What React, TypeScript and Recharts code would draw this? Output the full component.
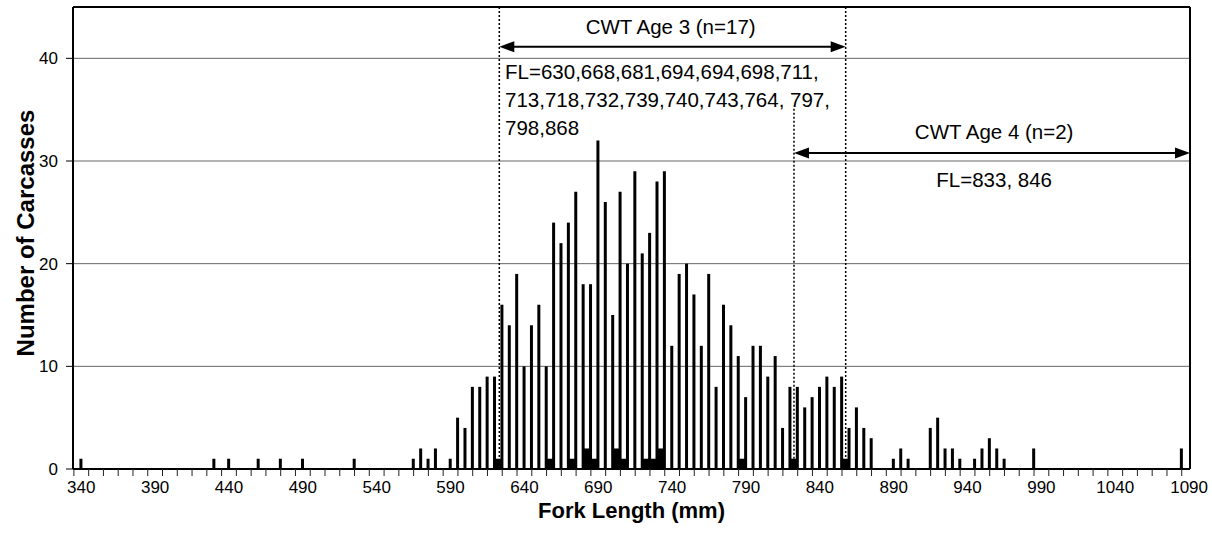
import { BarChart, Bar, XAxis, YAxis, CartesianGrid, ReferenceLine, ReferenceDot } from 'recharts'

// all carcasses, 5 mm fork length bins (bins with no fish left out)
const FORK_LENGTHS = [
  340, 430, 440, 460, 475, 490, 525, 565, 570, 575, 580, 590, 595, 600, 605, 610, 615, 620,
  625, 630, 635, 640, 645, 650, 655, 660, 665, 670, 675, 680, 685, 690, 695, 700, 705, 710,
  715, 720, 725, 730, 735, 740, 745, 750, 755, 760, 765, 770, 775, 780, 785, 790, 795, 800,
  805, 810, 815, 820, 825, 830, 835, 840, 845, 850, 855, 860, 865, 870, 875, 890, 895, 900,
  915, 920, 925, 930, 935, 945, 950, 955, 960, 965, 985, 1085,
]
const CARCASS_COUNTS = [
  1, 1, 1, 1, 1, 1, 1, 1, 2, 1, 2, 1, 5, 4, 8, 8, 9, 9,
  16, 14, 19, 10, 14, 16, 10, 24, 22, 24, 27, 18, 18, 32, 26, 15, 27, 20,
  29, 21, 23, 28, 29, 12, 19, 20, 17, 12, 19, 8, 16, 14, 11, 7, 12, 12,
  9, 11, 4, 8, 8, 6, 7, 8, 9, 8, 9, 4, 6, 4, 3, 1, 2, 1,
  4, 5, 2, 2, 1, 1, 2, 3, 2, 1, 2, 2,
]

// coded-wire-tag recoveries, as drawn on the axis
const CWT_LENGTHS = [622.5, 657.5, 672.5, 682.5, 687.5, 702.5, 707.5, 722.5, 727.5, 732.5, 787.5, 822.5, 857.5]
const CWT_COUNTS = [1, 1, 1, 2, 1, 2, 1, 1, 1, 2, 1, 1, 1]

const X_LABELS = [340, 390, 440, 490, 540, 590, 640, 690, 740, 790, 840, 890, 940, 990, 1040, 1090]
const Y_TICKS = [0, 10, 20, 30, 40]

const AGE3_TEXT = ['FL=630,668,681,694,694,698,711,', '713,718,732,739,740,743,764, 797,', '798,868']

const X_MIN = 334.4
const X_MAX = 1090.6
const TICK_MARKS = Array.from({ length: 76 }, (_, i) => 335 + i * 10)
const ALL_TICKS = [...TICK_MARKS, ...X_LABELS].sort((a, b) => a - b)

const FONT = 'Liberation Sans, Arial, sans-serif'

const rows = [
  ...FORK_LENGTHS.map((len, i) => ({ len, count: CARCASS_COUNTS[i] })),
  ...CWT_LENGTHS.map((len, i) => ({ len, cwt: CWT_COUNTS[i] })),
].sort((a, b) => a.len - b.len)

function ForkTick({ x, y, payload }: any) {
  const v = payload.value
  return (
    <g>
      {TICK_MARKS.includes(v) && <line x1={x} x2={x} y1={y - 7} y2={y} stroke="#222" strokeWidth={1} />}
      {X_LABELS.includes(v) && (
        <text x={x} y={y + 17} textAnchor="middle" fontSize={17} fill="#000">
          {v}
        </text>
      )}
    </g>
  )
}

function XTitle({ viewBox }: any) {
  return (
    <text x={viewBox.x + viewBox.width / 2} y={viewBox.y + 49} textAnchor="middle" fontSize={22} fontWeight="bold" fill="#000">
      Fork Length (mm)
    </text>
  )
}

function YTitle({ viewBox }: any) {
  const cx = viewBox.x + 21
  const cy = viewBox.y + viewBox.height / 2 - 5
  return (
    <text x={cx} y={cy} transform={`rotate(-90, ${cx}, ${cy})`} textAnchor="middle" fontSize={24} fontWeight="bold" fill="#000">
      Number of Carcasses
    </text>
  )
}

// wide filled bar for tag recoveries, centred on its bin
function CwtBar({ x, y, width, height }: any) {
  if (!height || height <= 0) return null
  return <rect x={x + width / 2 - 3.7} y={y} width={7.4} height={height} fill="#000" />
}

function DoubleArrow({ x1, y1, x2 }: any) {
  const h = 15
  const w = 5.5
  return (
    <g>
      <line x1={x1 + h - 1} y1={y1} x2={x2 - h + 1} y2={y1} stroke="#000" strokeWidth={2} />
      <polygon points={`${x1},${y1} ${x1 + h},${y1 - w} ${x1 + h},${y1 + w}`} fill="#000" />
      <polygon points={`${x2},${y1} ${x2 - h},${y1 - w} ${x2 - h},${y1 + w}`} fill="#000" />
    </g>
  )
}

const note = (text: string, anchor: 'start' | 'middle') => (p: any) => (
  <text x={p.cx} y={p.cy} textAnchor={anchor} dominantBaseline="central" fontSize={20.5} fill="#000">
    {text}
  </text>
)

const dotted = { stroke: '#000', strokeWidth: 1.5, strokeDasharray: '2 2' }

export default function App() {
  return (
    <div style={{ position: 'absolute', left: 0, top: 0, fontFamily: FONT }}>
      <BarChart
        width={1212}
        height={554}
        data={rows}
        margin={{ top: 7, right: 22, bottom: 25, left: 13 }}
        barSize={3}
        barGap={0}
      >
        <CartesianGrid horizontal vertical={false} stroke="#666" strokeWidth={1} />
        <XAxis
          dataKey="len"
          type="number"
          domain={[X_MIN, X_MAX]}
          ticks={ALL_TICKS}
          interval={0}
          tick={<ForkTick />}
          tickLine={false}
          tickSize={7}
          tickMargin={0}
          axisLine={{ stroke: '#000', strokeWidth: 2 }}
          height={60}
          label={<XTitle />}
        />
        <YAxis
          type="number"
          domain={[0, 45]}
          ticks={Y_TICKS}
          width={60}
          tickSize={7}
          tickMargin={8}
          tickLine={{ stroke: '#000' }}
          axisLine={{ stroke: '#000', strokeWidth: 2 }}
          tick={{ fontSize: 17, fill: '#000' }}
          label={<YTitle />}
        />
        <Bar dataKey="count" stackId="fl" fill="#000" isAnimationActive={false} />
        <Bar dataKey="cwt" stackId="fl" fill="#000" shape={<CwtBar />} isAnimationActive={false} />

        <ReferenceLine y={45} stroke="#000" strokeWidth={2} />
        <ReferenceLine x={X_MAX} stroke="#000" strokeWidth={2} />

        <ReferenceLine x={623} {...dotted} />
        <ReferenceLine x={857.5} {...dotted} />
        <ReferenceLine segment={[{ x: 822.5, y: 35.1 }, { x: 822.5, y: 0 }]} {...dotted} />

        <ReferenceLine segment={[{ x: 623, y: 41.13 }, { x: 857.5, y: 41.13 }]} shape={DoubleArrow} />
        <ReferenceLine segment={[{ x: 822.5, y: 30.78 }, { x: X_MAX, y: 30.78 }]} shape={DoubleArrow} />

        <ReferenceDot x={739} y={43.08} r={1} shape={note('CWT Age 3 (n=17)', 'middle')} />
        <ReferenceDot x={626.9} y={38.7} r={1} shape={note(AGE3_TEXT[0], 'start')} />
        <ReferenceDot x={626.9} y={35.97} r={1} shape={note(AGE3_TEXT[1], 'start')} />
        <ReferenceDot x={626.9} y={33.24} r={1} shape={note(AGE3_TEXT[2], 'start')} />
        <ReferenceDot x={958} y={32.92} r={1} shape={note('CWT Age 4 (n=2)', 'middle')} />
        <ReferenceDot x={958} y={28.15} r={1} shape={note('FL=833, 846', 'middle')} />
      </BarChart>
    </div>
  )
}
